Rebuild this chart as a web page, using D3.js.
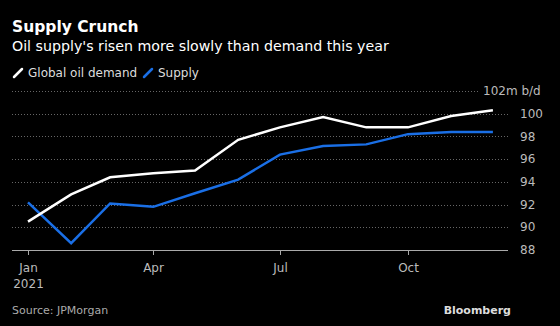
<!DOCTYPE html>
<html>
<head>
<meta charset="utf-8">
<script src="https://cdn.jsdelivr.net/npm/d3@7"></script>
<style>
  html, body { margin: 0; padding: 0; background: #000; }
  svg { display: block; font-family: "DejaVu Sans", sans-serif; }
</style>
</head>
<body>
<svg id="chart" width="560" height="326"></svg>
<script>
// monthly figures, million barrels a day
const months = ['2021-01-01', '2021-02-01', '2021-03-01', '2021-04-01', '2021-05-01', '2021-06-01',
  '2021-07-01', '2021-08-01', '2021-09-01', '2021-10-01', '2021-11-01', '2021-12-01']
const demand = [90.5, 92.9, 94.4, 94.75, 95.0, 97.7, 98.8, 99.7, 98.8, 98.8, 99.8, 100.3]
const supply = [92.2, 88.6, 92.1, 91.8, 93.0, 94.2, 96.4, 97.15, 97.3, 98.2, 98.4, 98.4]
const yTicks = [88, 90, 92, 94, 96, 98, 100, 102]
const xTicks = ['2021-01-01', '2021-04-01', '2021-07-01', '2021-10-01']
const xTickLabels = [['Jan', '2021'], ['Apr'], ['Jul'], ['Oct']]

const parse = d3.timeParse('%Y-%m-%d')
const dates = months.map(parse)

const svg = d3.select('#chart')
svg.append('rect').attr('width', 560).attr('height', 326).attr('fill', '#000')

const left = 12
const right = 508

// Jan 1 -> 28px, Oct 1 -> 408px
const x = d3.scaleTime()
  .domain([parse('2021-01-01'), parse('2021-10-01')])
  .range([28, 408])
const y = d3.scaleLinear().domain([88, 102]).range([250, 91])

// gridlines
svg.append('g')
  .selectAll('line')
  .data(yTicks.filter(d => d !== 88))
  .join('line')
  .attr('x1', left)
  .attr('x2', d => d === 102 ? 478 : right)
  .attr('y1', d => Math.round(y(d)) + 0.5)
  .attr('y2', d => Math.round(y(d)) + 0.5)
  .attr('stroke', '#666')
  .attr('stroke-width', 1)
  .attr('stroke-dasharray', '1,2')

// y labels
svg.append('g')
  .selectAll('text')
  .data(yTicks)
  .join('text')
  .attr('x', d => d === 102 ? 483 : 520)
  .attr('y', d => y(d))
  .attr('dy', '0.35em')
  .attr('fill', '#bbb')
  .attr('font-size', 12)
  .text(d => d === 102 ? '102m b/d' : d)

// baseline axis
svg.append('line')
  .attr('x1', left).attr('x2', right)
  .attr('y1', 250.5).attr('y2', 250.5)
  .attr('stroke', '#aaa').attr('stroke-width', 1)

const xt = svg.append('g')
  .selectAll('g')
  .data(xTicks.map(parse))
  .join('g')
  .attr('transform', d => `translate(${Math.round(x(d)) + 0.5},0)`)
xt.append('line').attr('y1', 250).attr('y2', 255).attr('stroke', '#aaa')
xt.append('text')
  .attr('text-anchor', 'middle')
  .attr('fill', '#bbb')
  .attr('font-size', 12)
  .selectAll('tspan')
  .data((d, i) => xTickLabels[i])
  .join('tspan')
  .attr('x', 0)
  .attr('y', (d, i) => 272 + i * 16)
  .text(d => d)

const line = d3.line()
  .x((d, i) => x(dates[i]))
  .y(d => y(d))

svg.append('path')
  .datum(supply)
  .attr('d', line)
  .attr('fill', 'none')
  .attr('stroke', '#1a6fe6')
  .attr('stroke-width', 2.5)

svg.append('path')
  .datum(demand)
  .attr('d', line)
  .attr('fill', 'none')
  .attr('stroke', '#fff')
  .attr('stroke-width', 2.5)

// titles
svg.append('text')
  .attr('x', 12).attr('y', 32)
  .attr('fill', '#fff')
  .attr('font-size', 15.5)
  .attr('font-weight', 'bold')
  .text('Supply Crunch')
svg.append('text')
  .attr('x', 12).attr('y', 51)
  .attr('fill', '#fff')
  .attr('font-size', 14.2)
  .text("Oil supply's risen more slowly than demand this year")

// legend
const legend = [['Global oil demand', '#fff', 12], ['Supply', '#1a6fe6', 142]]
const lg = svg.append('g')
  .selectAll('g')
  .data(legend)
  .join('g')
  .attr('transform', d => `translate(${d[2]},0)`)
lg.append('line')
  .attr('x1', 2).attr('x2', 10).attr('y1', 77).attr('y2', 69)
  .attr('stroke', d => d[1]).attr('stroke-width', 2.5).attr('stroke-linecap', 'round')
lg.append('text')
  .attr('x', 16).attr('y', 77)
  .attr('fill', '#ddd')
  .attr('font-size', 12)
  .text(d => d[0])

// footer
svg.append('text')
  .attr('x', 12).attr('y', 314)
  .attr('fill', '#aaa')
  .attr('font-size', 11)
  .text('Source: JPMorgan')
svg.append('text')
  .attr('x', 511).attr('y', 314)
  .attr('text-anchor', 'end')
  .attr('fill', '#ddd')
  .attr('font-size', 11)
  .attr('font-weight', 'bold')
  .text('Bloomberg')
</script>
</body>
</html>
